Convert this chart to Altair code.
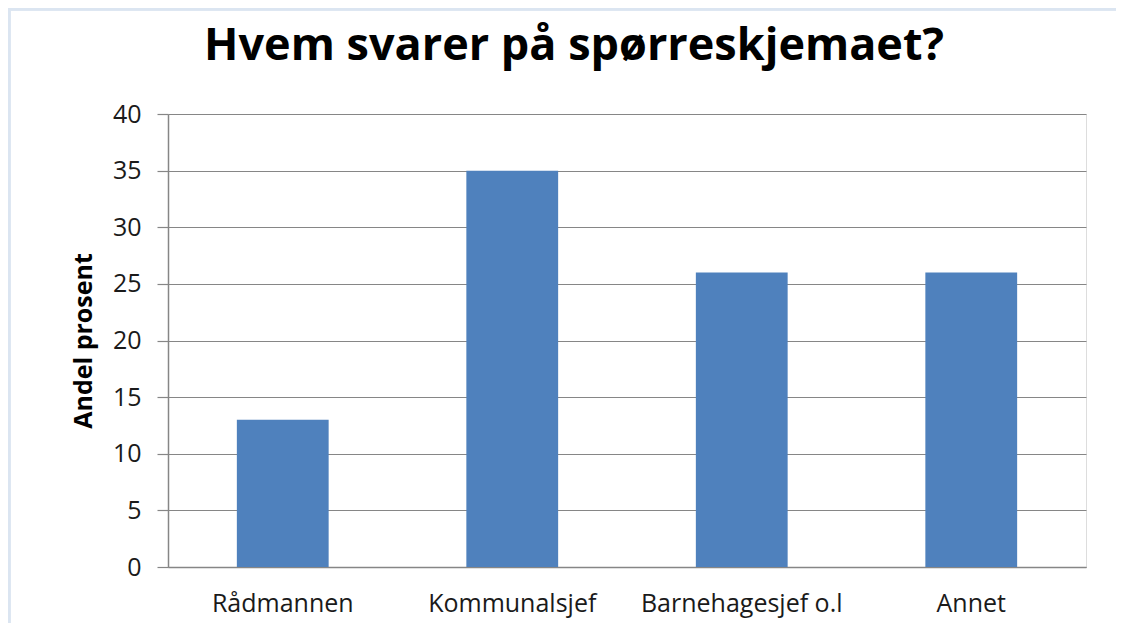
import altair as alt
import pandas as pd

categories = ["Rådmannen", "Kommunalsjef", "Barnehagesjef o.l", "Annet"]
values = [13, 35, 26, 26]
y_ticks = [0, 5, 10, 15, 20, 25, 30, 35, 40]

df = pd.DataFrame({"kategori": categories, "andel": values})

FONT = "Open Sans"

bars = alt.Chart(df).mark_bar(color="#4f81bd").encode(
    x=alt.X("kategori:N", sort=categories, title=None,
            scale=alt.Scale(paddingInner=0.6, paddingOuter=0.3),
            axis=alt.Axis(labelAngle=0, ticks=False, labelPadding=24, labelLimit=0,
                          labelFontSize=25, labelColor="#1a1a1a", labelFont=FONT,
                          domainColor="#868686", domainWidth=1.5, grid=False)),
    y=alt.Y("andel:Q", title="Andel prosent",
            scale=alt.Scale(domain=[0, 40], nice=False),
            axis=alt.Axis(values=y_ticks, tickSize=11, tickColor="#868686", tickWidth=1.2,
                          labelFontSize=25, labelColor="#1a1a1a", labelFont=FONT, labelPadding=16,
                          domainColor="#868686", domainWidth=1.5,
                          gridColor="#868686", gridWidth=1.2,
                          titleFont=FONT, titleFontSize=25, titleFontWeight="bold",
                          titleColor="#000000", titlePadding=16)),
)

border_top = alt.Chart(df).mark_rule(color="#dbe5f1", strokeWidth=3).encode(
    x=alt.value(-160), x2=alt.value(948), y=alt.value(-105)
)
border_left = alt.Chart(df).mark_rule(color="#dbe5f1", strokeWidth=3).encode(
    x=alt.value(-159), y=alt.value(-106), y2=alt.value(520)
)

chart = alt.layer(bars, border_top, border_left).properties(
    width=918, height=453,
    title=alt.Title("Hvem svarer på spørreskjemaet?", font=FONT, fontSize=45,
                    fontWeight="bold", color="#000000", anchor="middle", frame="group",
                    offset=0, baseline="alphabetic", dy=98, dx=-53),
    autosize=alt.AutoSizeParams(type="none"),
    padding={"left": 160, "top": 106, "right": 30, "bottom": 56},
).configure_view(stroke=None).configure(background="white")

chart.save("out.html", embed_options={"renderer": "svg", "actions": False})
